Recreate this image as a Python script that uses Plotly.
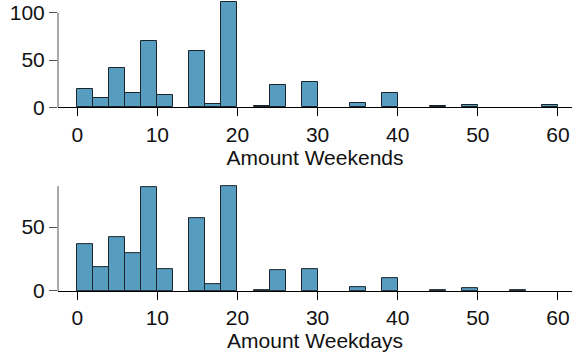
import plotly.graph_objects as go

bin_left = list(range(0, 60, 2))
bin_width = 2
weekends = [19, 10, 42, 15, 70, 13, 0, 60, 4, 111, 0, 1, 24, 0, 27,
            0, 0, 5, 0, 15, 0, 0, 1, 0, 2, 0, 0, 0, 0, 2]
weekdays = [37, 19, 42, 30, 81, 17, 0, 57, 5, 82, 0, 1, 16, 0, 17,
            0, 0, 3, 0, 10, 0, 0, 1, 0, 2, 0, 0, 1, 0, 0]
x_ticks = [0, 10, 20, 30, 40, 50, 60]
top_yticks = [0, 50, 100]
bot_yticks = [0, 50]

centers = [b + bin_width / 2 for b in bin_left]
FILL = "#569DC0"
EDGE = "#1a242c"
FONT = dict(family="Liberation Sans, Arial, sans-serif", size=21, color="#111")

fig = go.Figure()
for vals, xa, ya in [(weekends, "x", "y"), (weekdays, "x2", "y2")]:
    fig.add_trace(go.Bar(
        x=centers, y=[v if v > 0 else None for v in vals], width=bin_width,
        marker=dict(color=FILL, line=dict(color=EDGE, width=1)),
        xaxis=xa, yaxis=ya, showlegend=False, hoverinfo="x+y"))

xcommon = dict(range=[-2.4, 61.75], tickvals=x_ticks, showline=True, linecolor="#000",
               linewidth=1, ticks="outside", ticklen=8, tickcolor="#000",
               showgrid=False, zeroline=False, tickfont=FONT, title_font=FONT)
ycommon = dict(showline=False, ticks="outside", ticklen=8, tickcolor="#555",
               showgrid=False, zeroline=False, tickfont=FONT)

fig.update_layout(
    width=572, height=356, margin=dict(l=58, r=0, t=0, b=65),
    plot_bgcolor="white", paper_bgcolor="white", bargap=0,
    xaxis=dict(**xcommon, domain=[0, 1], anchor="y",
               title=dict(text="Amount Weekends", standoff=5)),
    yaxis=dict(**ycommon, domain=[0.631, 1], range=[0, 113.4], tickvals=top_yticks, anchor="x"),
    xaxis2=dict(**xcommon, domain=[0, 1], anchor="y2",
                title=dict(text="Amount Weekdays", standoff=3)),
    yaxis2=dict(**ycommon, domain=[0, 0.381], range=[0, 86.7], tickvals=bot_yticks, anchor="x2"),
)
# y axis lines limited to the labelled span
fig.add_shape(type="line", xref="x domain", yref="y", x0=0, x1=0, y0=0, y1=max(top_yticks),
              line=dict(color="#555", width=1))
fig.add_shape(type="line", xref="x2 domain", yref="y2", x0=0, x1=0, y0=0, y1=max(weekdays),
              line=dict(color="#555", width=1))

fig.write_html("out.html")
